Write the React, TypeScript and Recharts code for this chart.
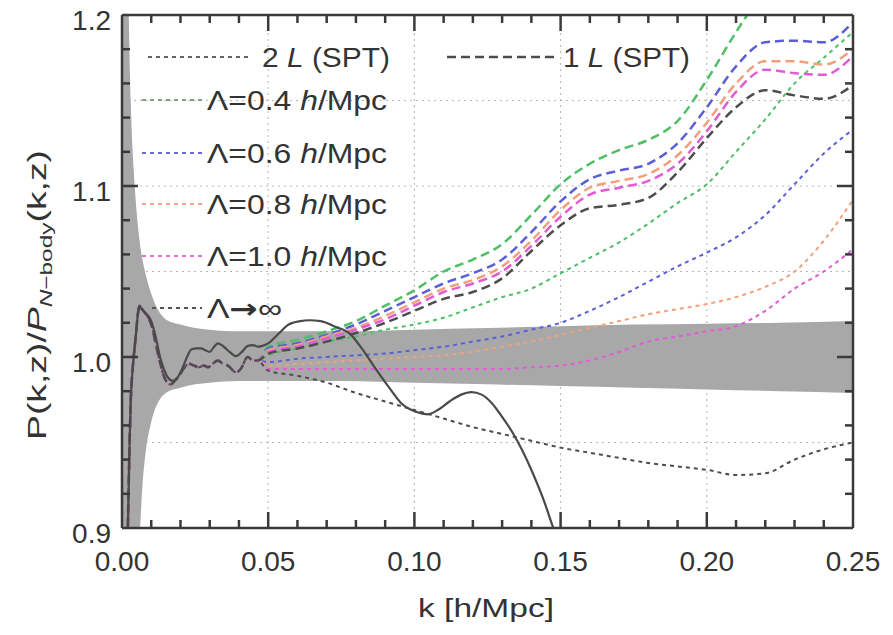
import React from "react";
import {
  ComposedChart,
  Line,
  Area,
  XAxis,
  YAxis,
  CartesianGrid,
  ReferenceLine,
} from "recharts";

// low-k part, all perturbative curves follow the N-body noise here
const kLow = [
  0.0015, 0.002, 0.0026, 0.003, 0.0035, 0.004, 0.0047, 0.0055, 0.006, 0.0068,
  0.0078, 0.009, 0.0102, 0.0115, 0.013, 0.0143, 0.0155, 0.0167, 0.018, 0.0195,
  0.021, 0.0229, 0.0246, 0.0263, 0.028, 0.0294, 0.031, 0.0328, 0.0345, 0.0362,
  0.039, 0.0406, 0.043, 0.0447, 0.0464,
];
const clusterLow = [
  0.86, 0.9, 0.95, 0.975, 0.99, 1.0, 1.012, 1.026, 1.03, 1.028, 1.026, 1.023,
  1.018, 1.008, 0.997, 0.989, 0.985, 0.984, 0.986, 0.989, 0.993, 0.996, 0.995,
  0.994, 0.995, 0.994, 0.996, 0.998, 0.996, 0.995, 0.991, 0.993, 1.0, 0.998,
  0.998,
];

const kHigh = [
  0.05, 0.06, 0.07, 0.08, 0.09, 0.1, 0.11, 0.12, 0.13, 0.14, 0.15, 0.16, 0.17,
  0.18, 0.19, 0.2, 0.21, 0.22, 0.23, 0.24, 0.25,
];

// 1-loop (dashed)
const oneLoop04 = [1.006, 1.01, 1.015, 1.021, 1.03, 1.039, 1.05, 1.057, 1.066, 1.083, 1.101, 1.113, 1.121, 1.127, 1.138, 1.162, 1.19, 1.215, 1.235, 1.25, 1.27];
const oneLoop06 = [1.005, 1.008, 1.013, 1.019, 1.027, 1.035, 1.043, 1.049, 1.057, 1.073, 1.091, 1.104, 1.109, 1.113, 1.125, 1.146, 1.17, 1.184, 1.185, 1.184, 1.196];
const oneLoop08 = [1.004, 1.007, 1.012, 1.017, 1.024, 1.032, 1.04, 1.045, 1.053, 1.068, 1.086, 1.099, 1.103, 1.107, 1.118, 1.137, 1.16, 1.173, 1.173, 1.171, 1.18];
const oneLoop10 = [1.003, 1.006, 1.011, 1.016, 1.022, 1.03, 1.038, 1.043, 1.05, 1.065, 1.082, 1.095, 1.099, 1.103, 1.113, 1.132, 1.155, 1.168, 1.166, 1.165, 1.176];
const oneLoopInf = [1.002, 1.005, 1.009, 1.014, 1.02, 1.027, 1.034, 1.038, 1.046, 1.062, 1.077, 1.087, 1.089, 1.093, 1.108, 1.128, 1.146, 1.156, 1.153, 1.151, 1.159];

// 2-loop (dotted)
const twoLoop04 = [1.001, 1.005, 1.009, 1.012, 1.016, 1.019, 1.023, 1.029, 1.035, 1.04, 1.049, 1.058, 1.067, 1.078, 1.09, 1.101, 1.12, 1.139, 1.16, 1.175, 1.19];
const twoLoop06 = [0.997, 0.999, 1.0, 1.001, 1.002, 1.004, 1.006, 1.009, 1.012, 1.016, 1.02, 1.027, 1.035, 1.044, 1.053, 1.061, 1.07, 1.083, 1.101, 1.119, 1.133];
const twoLoop08 = [0.995, 0.996, 0.997, 0.998, 0.999, 1.0, 1.001, 1.003, 1.006, 1.009, 1.013, 1.017, 1.021, 1.025, 1.028, 1.031, 1.035, 1.041, 1.05, 1.068, 1.092];
const twoLoop10 = [0.993, 0.993, 0.993, 0.993, 0.993, 0.993, 0.993, 0.993, 0.993, 0.994, 0.995, 0.998, 1.003, 1.009, 1.012, 1.015, 1.018, 1.027, 1.04, 1.05, 1.063];
const twoLoopInf = [0.992, 0.989, 0.985, 0.979, 0.974, 0.969, 0.964, 0.959, 0.955, 0.951, 0.947, 0.944, 0.941, 0.938, 0.936, 0.934, 0.931, 0.932, 0.94, 0.946, 0.95];

// linear theory
const kLin = [
  0.0015, 0.002, 0.0026, 0.003, 0.0035, 0.004, 0.0047, 0.0055, 0.006, 0.0068,
  0.0078, 0.009, 0.0102, 0.0115, 0.013, 0.0143, 0.0157, 0.0175, 0.019, 0.0208,
  0.0225, 0.0238, 0.0255, 0.027, 0.0285, 0.03, 0.0315, 0.0328, 0.0348, 0.0368,
  0.039, 0.041, 0.043, 0.0448, 0.0465, 0.048, 0.05, 0.0535, 0.057, 0.061, 0.064,
  0.068, 0.0725, 0.078, 0.082, 0.086, 0.091, 0.0955, 0.1005, 0.1045, 0.108,
  0.112, 0.116, 0.1195, 0.123, 0.1265, 0.13, 0.1335, 0.137, 0.1405, 0.1445,
  0.1475, 0.151,
];
const linSpt = [
  0.86, 0.9, 0.95, 0.975, 0.99, 1.0, 1.012, 1.026, 1.03, 1.028, 1.026, 1.024,
  1.02, 1.012, 1.0, 0.993, 0.988, 0.986, 0.988, 0.994, 1.001, 1.0045, 1.005,
  1.005, 1.004, 1.003, 1.006, 1.008, 1.006, 1.003, 1.0005, 1.003, 1.0065, 1.007,
  1.006, 1.0065, 1.008, 1.0135, 1.019, 1.021, 1.0215, 1.021, 1.018, 1.0135,
  1.005, 0.995, 0.983, 0.973, 0.968, 0.9665, 0.969, 0.974, 0.978, 0.9795, 0.978,
  0.973, 0.965, 0.956, 0.945, 0.932, 0.915, 0.9, 0.885,
];

// N-body error band
const kBand = [0, 0.001, 0.002, 0.003, 0.004, 0.005, 0.006, 0.007, 0.008, 0.01, 0.0125, 0.015, 0.02, 0.025, 0.03, 0.04, 0.05, 0.075, 0.1, 0.125, 0.15, 0.175, 0.2, 0.225, 0.25];
const bandHi = [1.7, 1.45, 1.24, 1.15, 1.11, 1.085, 1.068, 1.057, 1.049, 1.037, 1.027, 1.022, 1.019, 1.017, 1.016, 1.015, 1.015, 1.015, 1.016, 1.017, 1.018, 1.019, 1.0195, 1.02, 1.021];
const bandLo = [0.4, 0.6, 0.75, 0.81, 0.85, 0.875, 0.895, 0.925, 0.943, 0.962, 0.974, 0.979, 0.982, 0.984, 0.985, 0.986, 0.986, 0.986, 0.985, 0.984, 0.983, 0.982, 0.981, 0.98, 0.979];

// axis ticks
const xLabels = [0, 0.05, 0.1, 0.15, 0.2, 0.25];
const yLabels = [0.9, 1.0, 1.1, 1.2];
const xMinor = [0.01, 0.02, 0.03, 0.04, 0.06, 0.07, 0.08, 0.09, 0.11, 0.12, 0.13, 0.14, 0.16, 0.17, 0.18, 0.19, 0.21, 0.22, 0.23, 0.24];
const xMajor = [0.05, 0.1, 0.15, 0.2];
const yMinor = [0.92, 0.94, 0.96, 0.98, 1.02, 1.04, 1.06, 1.08, 1.12, 1.14, 1.16, 1.18];
const yMajor = [1.0, 1.1];
const xGrid = [0.05, 0.1, 0.15, 0.2];
const yGrid = [0.95, 1.0, 1.05, 1.1, 1.15];

const FONT = "'Liberation Sans', Arial, Helvetica, sans-serif";
const INK = "#333";
const FRAME = "#3a3a3a";

const GREEN = "#4fbf66";
const BLUE = "#5a5fd8";
const ORANGE = "#f2a07c";
const MAGENTA = "#e25ad6";
const GRAY = "#4d4d4d";

const DASH = "9 5";
const DOT = "4 4";

const series = [
  { id: "2L-0.4", vals: twoLoop04, color: GREEN, dash: DOT, w: 2 },
  { id: "2L-0.6", vals: twoLoop06, color: BLUE, dash: DOT, w: 2 },
  { id: "2L-0.8", vals: twoLoop08, color: ORANGE, dash: DOT, w: 2 },
  { id: "2L-1.0", vals: twoLoop10, color: MAGENTA, dash: DOT, w: 2 },
  { id: "2L-inf", vals: twoLoopInf, color: GRAY, dash: DOT, w: 2 },
  { id: "1L-0.4", vals: oneLoop04, color: GREEN, dash: DASH, w: 2.5 },
  { id: "1L-0.6", vals: oneLoop06, color: BLUE, dash: DASH, w: 2.5 },
  { id: "1L-0.8", vals: oneLoop08, color: ORANGE, dash: DASH, w: 2.5 },
  { id: "1L-1.0", vals: oneLoop10, color: MAGENTA, dash: DASH, w: 2.5 },
  { id: "1L-inf", vals: oneLoopInf, color: GRAY, dash: DASH, w: 2.5 },
];

const withLowK = (vals: number[]) => [
  ...kLow.map((k, i) => ({ k, v: clusterLow[i] })),
  ...kHigh.map((k, i) => ({ k, v: vals[i] })),
];
const linData = kLin.map((k, i) => ({ k, v: linSpt[i] }));
const bandData = kBand.map((k, i) => ({ k, band: [bandLo[i], bandHi[i]] }));

// inward tick marks on the top and right sides, as short segments in data units
// (plot area is 731 x 513 px for 0.25 x 0.3)
const XT_MINOR = 8 / 1710;
const XT_MAJOR = 16 / 1710;
const YT_MINOR = 8 / 2924;
const YT_MAJOR = 16 / 2924;

const tickSegments = [
  ...xMinor.map((x) => [{ k: x, v: 1.2 }, { k: x, v: 1.2 - XT_MINOR }]),
  ...xMajor.map((x) => [{ k: x, v: 1.2 }, { k: x, v: 1.2 - XT_MAJOR }]),
  ...yMinor.map((y) => [{ k: 0.25, v: y }, { k: 0.25 - YT_MINOR, v: y }]),
  ...yMajor.map((y) => [{ k: 0.25, v: y }, { k: 0.25 - YT_MAJOR, v: y }]),
];

const has = (list: number[], v: number) => list.some((t) => Math.abs(t - v) < 1e-9);

// bottom / left axes: tick marks plus labels (label sits 6 + 2 px off the axis)
const GAP = 8;

const BottomTick = (props: any) => {
  const { x, y, payload } = props;
  const v = payload.value;
  const axisY = y - GAP;
  const len = has(xMajor, v) ? 16 : has(xMinor, v) ? 8 : 0;
  return (
    <g>
      {len > 0 && <line x1={x} x2={x} y1={axisY} y2={axisY - len} stroke={FRAME} strokeWidth={2.5} />}
      {has(xLabels, v) && (
        <text x={x} y={axisY + 43} textAnchor="middle" fontFamily={FONT} fontSize={28} fill={INK}>
          {v.toFixed(2)}
        </text>
      )}
    </g>
  );
};

const LeftTick = (props: any) => {
  const { x, y, payload } = props;
  const v = payload.value;
  const axisX = x + GAP;
  const len = has(yMajor, v) ? 16 : has(yMinor, v) ? 8 : 0;
  return (
    <g>
      {len > 0 && <line x1={axisX} x2={axisX + len} y1={y} y2={y} stroke={FRAME} strokeWidth={2.5} />}
      {has(yLabels, v) && (
        <text x={axisX - 11} y={y + 15} textAnchor="end" fontFamily={FONT} fontSize={28} fill={INK}>
          {v.toFixed(1)}
        </text>
      )}
    </g>
  );
};

const legendRows = [
  { label: "0.4", color: "#7aa87c", y: 100 },
  { label: "0.6", color: "#6a6ad8", y: 153 },
  { label: "0.8", color: "#f0a684", y: 204 },
  { label: "1.0", color: "#e070d8", y: 256 },
];

const Overlay = () => (
  <svg
    width={893}
    height={635}
    style={{ position: "absolute", left: 0, top: 0, pointerEvents: "none" }}
  >
    <g fontFamily={FONT} fill={INK} fontSize={27}>
      <line x1={148} x2={250} y1={57} y2={57} stroke="#666" strokeWidth={2} strokeDasharray={DOT} />
      <text x={262} y={67} textLength={128} lengthAdjust="spacingAndGlyphs">
        2 <tspan fontStyle="italic">L</tspan> (SPT)
      </text>
      <line x1={447} x2={557} y1={57} y2={57} stroke={GRAY} strokeWidth={2.5} strokeDasharray={DASH} />
      <text x={563} y={67} textLength={127} lengthAdjust="spacingAndGlyphs">
        1 <tspan fontStyle="italic">L</tspan> (SPT)
      </text>
      {legendRows.map((r) => (
        <g key={r.label}>
          <line x1={142} x2={202} y1={r.y} y2={r.y} stroke={r.color} strokeWidth={2} strokeDasharray={DOT} />
          <text x={207} y={r.y + 10} textLength={180} lengthAdjust="spacingAndGlyphs">
            Λ={r.label} <tspan fontStyle="italic">h</tspan>/Mpc
          </text>
        </g>
      ))}
      <line x1={152} x2={202} y1={308} y2={308} stroke="#555" strokeWidth={2} strokeDasharray={DOT} />
      <text x={207} y={318} textLength={75} lengthAdjust="spacingAndGlyphs">
        Λ<tspan fontFamily="'DejaVu Sans', sans-serif" fontWeight="bold">→</tspan>∞
      </text>
      <text x={486} y={617} textAnchor="middle" fontSize={26} textLength={136} lengthAdjust="spacingAndGlyphs">
        k [h/Mpc]
      </text>
      <text
        transform="translate(46,295) rotate(-90)"
        textAnchor="middle"
        fontSize={26}
        textLength={290}
        lengthAdjust="spacingAndGlyphs"
      >
        P(k,z)/<tspan fontStyle="italic">P</tspan>
        <tspan fontSize={17} dy={6}>
          <tspan fontStyle="italic">N</tspan>−body
        </tspan>
        <tspan dy={-6}>(k,z)</tspan>
      </text>
    </g>
  </svg>
);

const xAll = [0, ...xMinor, ...xMajor, 0.25].sort((a, b) => a - b);
const yAll = [0.9, ...yMinor, ...yMajor, 1.2].sort((a, b) => a - b);

export default function App() {
  return (
    <div style={{ position: "absolute", left: 0, top: 0, width: 893, height: 635, background: "#fff" }}>
      <ComposedChart
        width={893}
        height={635}
        margin={{ top: 15, right: 40, left: 121, bottom: 106 }}
      >
        <CartesianGrid
          horizontalValues={yGrid}
          verticalValues={xGrid}
          stroke="#b5b5b5"
          strokeDasharray="2 4"
        />
        <Area
          data={bandData}
          dataKey="band"
          type="monotone"
          stroke="none"
          fill="#a8a8a8"
          fillOpacity={1}
          isAnimationActive={false}
          activeDot={false}
        />
        {series.map((s) => (
          <Line
            key={s.id}
            data={withLowK(s.vals)}
            dataKey="v"
            type="monotone"
            stroke={s.color}
            strokeWidth={s.w}
            strokeDasharray={s.dash}
            dot={false}
            activeDot={false}
            isAnimationActive={false}
          />
        ))}
        <Line
          data={linData}
          dataKey="v"
          type="monotone"
          stroke="#4a4a4a"
          strokeWidth={2.2}
          dot={false}
          activeDot={false}
          isAnimationActive={false}
        />
        {tickSegments.map((seg, i) => (
          <Line
            key={"tick" + i}
            data={seg}
            dataKey="v"
            type="linear"
            stroke={FRAME}
            strokeWidth={2.5}
            dot={false}
            activeDot={false}
            isAnimationActive={false}
          />
        ))}
        <ReferenceLine x={0} stroke={FRAME} strokeWidth={2.5} />
        <ReferenceLine x={0.25} stroke={FRAME} strokeWidth={2.5} />
        <ReferenceLine y={0.9} stroke={FRAME} strokeWidth={2.5} />
        <ReferenceLine y={1.2} stroke={FRAME} strokeWidth={2.5} />
        <XAxis
          dataKey="k"
          type="number"
          domain={[0, 0.25]}
          ticks={xAll}
          allowDataOverflow
          tickLine={false}
          tickSize={6}
          tickMargin={2}
          axisLine={false}
          height={1}
          tick={<BottomTick />}
          interval={0}
        />
        <YAxis
          type="number"
          domain={[0.9, 1.2]}
          ticks={yAll}
          allowDataOverflow
          tickLine={false}
          tickSize={6}
          tickMargin={2}
          axisLine={false}
          width={1}
          tick={<LeftTick />}
          interval={0}
        />
      </ComposedChart>
      <Overlay />
    </div>
  );
}
